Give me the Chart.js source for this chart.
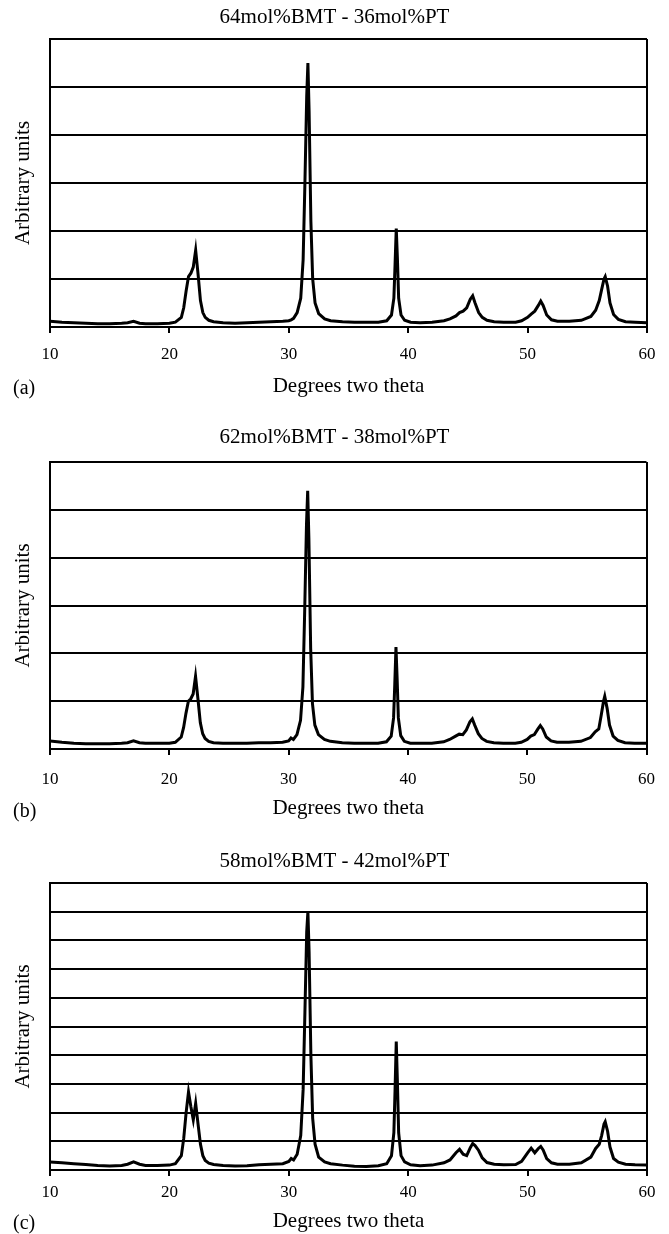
<!DOCTYPE html>
<html>
<head>
<meta charset="utf-8">
<script src="https://cdn.jsdelivr.net/npm/chart.js@4.4.1/dist/chart.umd.min.js"></script>
<style>
  body { margin: 0; background: #fff; width: 669px; height: 1234px; overflow: hidden; position: relative; font-family: "Liberation Serif", serif; }
  canvas { position: absolute; left: 0; }
  .tag { position: absolute; left: 13px; font-size: 20px; line-height: 20px; color: #000; }
</style>
</head>
<body>
<canvas id="chartA" width="669" height="400" style="top:0px"></canvas>
<canvas id="chartB" width="669" height="400" style="top:423px"></canvas>
<canvas id="chartC" width="669" height="390" style="top:844px"></canvas>
<span class="tag" style="top:377px">(a)</span>
<span class="tag" style="top:800px">(b)</span>
<span class="tag" style="top:1212px">(c)</span>
<script>
// XRD traces (two theta in degrees, arbitrary units)
const twoTheta = [
  10, 11, 12, 13, 14, 15, 16, 16.5, 17, 17.5, 18, 19, 20, 20.5, 21, 21.2, 21.4, 21.6, 21.8, 22.0,
  22.2, 22.4, 22.6, 22.8, 23.0, 23.3, 23.7, 24.5, 25.5, 26.5, 27.5, 28.5, 29.5, 30.0, 30.2, 30.4,
  30.7, 31.0, 31.2, 31.35, 31.5, 31.6, 31.7, 31.85, 32.0, 32.2, 32.5, 33.0, 33.5, 34.5, 35.5, 36.5,
  37.5, 38.2, 38.6, 38.8, 38.9, 39.0, 39.1, 39.2, 39.4, 39.7, 40.2, 41, 42, 43, 43.5, 44.0, 44.3,
  44.6, 44.9, 45.2, 45.4, 45.6, 45.9, 46.2, 46.6, 47.2, 48, 49, 49.5, 50.0, 50.3, 50.6, 50.9, 51.1,
  51.3, 51.6, 52.0, 52.5, 53.5, 54.5, 55.3, 55.7, 56.0, 56.2, 56.4, 56.5, 56.7, 56.9, 57.2, 57.6,
  58.2, 59, 60
];

const intensityA = [
  0.12, 0.10, 0.09, 0.08, 0.07, 0.07, 0.08, 0.09, 0.12, 0.08, 0.07, 0.07, 0.08, 0.10, 0.20, 0.40, 0.75, 1.05, 1.12, 1.25,
  1.60, 1.10, 0.55, 0.30, 0.20, 0.14, 0.11, 0.09, 0.08, 0.09, 0.10, 0.11, 0.12, 0.13, 0.15, 0.18,
  0.30, 0.60, 1.40, 3.00, 4.80, 5.50, 4.50, 2.20, 1.00, 0.50, 0.28, 0.17, 0.13, 0.11, 0.10, 0.10,
  0.10, 0.13, 0.25, 0.60, 1.30, 2.05, 1.40, 0.60, 0.25, 0.14, 0.10, 0.09, 0.10, 0.13, 0.17, 0.23, 0.30,
  0.33, 0.40, 0.58, 0.65, 0.50, 0.30, 0.20, 0.14, 0.11, 0.10, 0.10, 0.13, 0.20, 0.27, 0.33, 0.45, 0.54,
  0.45, 0.25, 0.15, 0.12, 0.12, 0.14, 0.22, 0.35, 0.55, 0.78, 1.00, 1.05, 0.85, 0.50, 0.26, 0.16,
  0.11, 0.10, 0.09
];

const intensityB = [
  0.17, 0.14, 0.12, 0.11, 0.11, 0.11, 0.12, 0.13, 0.17, 0.13, 0.12, 0.12, 0.12, 0.14, 0.25, 0.45, 0.75, 1.00, 1.05, 1.15,
  1.52, 1.05, 0.55, 0.32, 0.22, 0.16, 0.13, 0.12, 0.12, 0.12, 0.13, 0.13, 0.14, 0.17, 0.23, 0.20,
  0.30, 0.60, 1.30, 2.90, 4.70, 5.40, 4.40, 2.10, 0.95, 0.50, 0.30, 0.20, 0.16, 0.13, 0.12, 0.12,
  0.12, 0.15, 0.27, 0.65, 1.35, 2.13, 1.45, 0.65, 0.28, 0.16, 0.12, 0.12, 0.12, 0.15, 0.20, 0.27, 0.31,
  0.30, 0.40, 0.57, 0.63, 0.50, 0.32, 0.22, 0.16, 0.13, 0.12, 0.12, 0.14, 0.20, 0.27, 0.30, 0.42, 0.49,
  0.42, 0.25, 0.17, 0.14, 0.14, 0.16, 0.24, 0.36, 0.42, 0.70, 1.00, 1.10, 0.85, 0.50, 0.27, 0.18,
  0.13, 0.12, 0.12
];

const intensityC = [
  0.28, 0.25, 0.22, 0.19, 0.16, 0.14, 0.16, 0.20, 0.28, 0.20, 0.16, 0.16, 0.17, 0.22, 0.50, 1.10, 2.00, 2.72, 2.20, 1.75,
  2.32, 1.60, 0.90, 0.50, 0.33, 0.24, 0.19, 0.16, 0.14, 0.15, 0.18, 0.20, 0.22, 0.30, 0.40, 0.35,
  0.55, 1.20, 2.80, 5.50, 8.30, 9.00, 7.60, 4.00, 1.80, 0.90, 0.45, 0.28, 0.22, 0.17, 0.13, 0.12,
  0.15, 0.22, 0.50, 1.30, 2.80, 4.48, 3.00, 1.30, 0.50, 0.28, 0.18, 0.15, 0.17, 0.25, 0.35, 0.60, 0.72,
  0.55, 0.50, 0.78, 0.92, 0.85, 0.68, 0.42, 0.26, 0.20, 0.18, 0.19, 0.30, 0.60, 0.76, 0.60, 0.75, 0.82,
  0.70, 0.40, 0.25, 0.20, 0.20, 0.25, 0.45, 0.75, 0.90, 1.20, 1.60, 1.68, 1.35, 0.80, 0.40, 0.27,
  0.20, 0.18, 0.17
];

const titles = ["64mol%BMT - 36mol%PT", "62mol%BMT - 38mol%PT", "58mol%BMT - 42mol%PT"];
const xTicks = [10, 20, 30, 40, 50, 60];
const yTops = [6, 6, 10];

const serif = "'Liberation Serif', 'Times New Roman', serif";

function makeChart(id, title, values, yTop, lay) {
  const pts = twoTheta.map((x, i) => ({ x: x, y: values[i] }));
  return new Chart(document.getElementById(id), {
    type: 'line',
    data: {
      datasets: [{
        data: pts,
        borderColor: '#000',
        borderWidth: 3,
        pointRadius: 0,
        tension: 0
      }]
    },
    options: {
      responsive: false,
      animation: false,
      layout: { padding: 0 },
      plugins: {
        legend: { display: false },
        tooltip: { enabled: false },
        title: {
          display: true,
          text: title,
          color: '#000',
          font: { family: serif, size: 21, weight: 'normal', lineHeight: 1 },
          padding: { top: lay.titleTop, bottom: 39 - 21 - lay.titleTop }
        }
      },
      scales: {
        x: {
          type: 'linear',
          min: 10,
          max: 60,
          afterBuildTicks: s => { s.ticks = xTicks.map(v => ({ value: v })); },
          afterFit: s => { s.height = lay.h - lay.plotBottom; },
          grid: {
            color: c => (c.tick && c.tick.value === 60) ? '#000' : 'rgba(0,0,0,0)',
            lineWidth: 2,
            tickColor: '#000',
            tickLength: 6
          },
          border: { color: '#000', width: 2 },
          ticks: { color: '#000', font: { family: serif, size: 17 }, padding: lay.tickPad, maxRotation: 0 },
          title: {
            display: true,
            text: 'Degrees two theta',
            color: '#000',
            font: { family: serif, size: 21, lineHeight: 1 },
            padding: { top: 0, bottom: lay.xTitlePad }
          }
        },
        y: {
          min: 0,
          max: yTop,
          ticks: { display: false, stepSize: 1 },
          afterFit: s => { s.width = 50; },
          grid: { color: '#000', lineWidth: 2, drawTicks: false },
          border: { color: '#000', width: 2 },
          title: {
            display: true,
            text: 'Arbitrary units',
            color: '#000',
            font: { family: serif, size: 21, lineHeight: 1 },
            padding: { top: 13, bottom: 0 }
          }
        },
        // empty right-hand strip so the plot box ends at x = 647
        yRight: {
          position: 'right',
          min: 0,
          max: yTop,
          ticks: { display: false },
          grid: { display: false },
          border: { display: false },
          afterFit: s => { s.width = 22; }
        }
      }
    }
  });
}

makeChart('chartA', titles[0], intensityA, yTops[0], { h: 400, plotBottom: 327, titleTop: 7, tickPad: 11.5, xTitlePad: 3.5 });
makeChart('chartB', titles[1], intensityB, yTops[1], { h: 400, plotBottom: 326, titleTop: 4, tickPad: 14, xTitlePad: 4.5 });
makeChart('chartC', titles[2], intensityC, yTops[2], { h: 390, plotBottom: 326, titleTop: 7, tickPad: 6.5, xTitlePad: 2 });
</script>
</body>
</html>
